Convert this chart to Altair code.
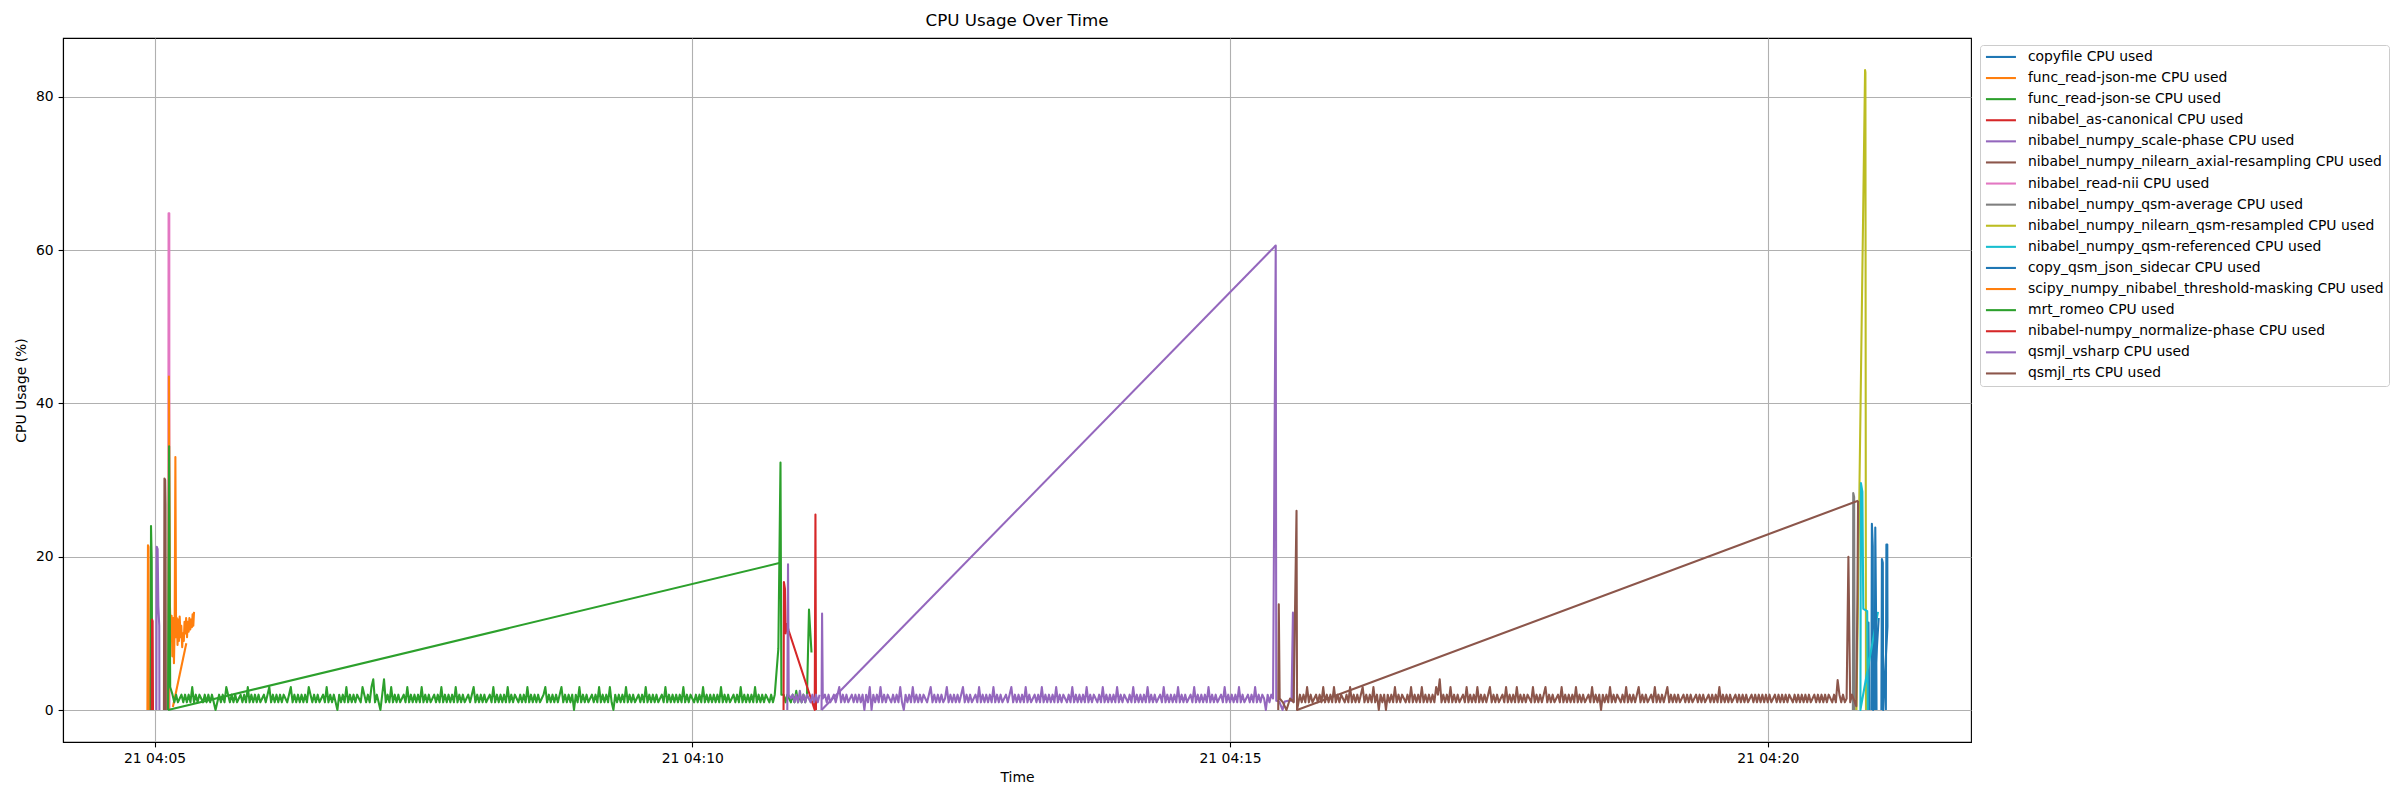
import altair as alt
import pandas as pd

DAY = "2024-03-21"

SERIES = [
    "copyfile CPU used",
    "func_read-json-me CPU used",
    "func_read-json-se CPU used",
    "nibabel_as-canonical CPU used",
    "nibabel_numpy_scale-phase CPU used",
    "nibabel_numpy_nilearn_axial-resampling CPU used",
    "nibabel_read-nii CPU used",
    "nibabel_numpy_qsm-average CPU used",
    "nibabel_numpy_nilearn_qsm-resampled CPU used",
    "nibabel_numpy_qsm-referenced CPU used",
    "copy_qsm_json_sidecar CPU used",
    "scipy_numpy_nibabel_threshold-masking CPU used",
    "mrt_romeo CPU used",
    "nibabel-numpy_normalize-phase CPU used",
    "qsmjl_vsharp CPU used",
    "qsmjl_rts CPU used",
]
COLORS = [
    "#1f77b4", "#ff7f0e", "#2ca02c", "#d62728", "#9467bd", "#8c564b",
    "#e377c2", "#7f7f7f", "#bcbd22", "#17becf", "#1f77b4", "#ff7f0e",
    "#2ca02c", "#d62728", "#9467bd", "#8c564b",
]

# all times: seconds after 04:00:00 on day 21
copyfile_a_t = [1255.9, 1256.2, 1256.6]
copyfile_a_v = [0.0, 11.4, 0.0]
copyfile_b_t = [1257.8, 1258.1, 1258.6, 1258.8, 1261.9]
copyfile_b_v = [0.0, 24.3, 21.4, 0.0, 12.0]

json_me_t = [296.0, 296.3, 296.6, 296.9]
json_me_v = [0.0, 21.5, 21.3, 0.0]

json_se_t = [297.8, 298.0, 298.4, 298.7]
json_se_v = [0.0, 24.0, 19.5, 0.0]

canonical_t = [298.4, 298.6, 298.9, 299.1]
canonical_v = [0.0, 11.8, 11.6, 0.0]

scale_phase_t = [301.0, 301.2, 301.7, 302.1, 302.6, 302.7]
scale_phase_v = [0.0, 21.3, 21.0, 13.6, 11.0, 0.0]

axial_t = [305.2, 305.5, 305.9, 306.1, 306.3]
axial_v = [0.0, 30.2, 30.0, 26.7, 0.0]

read_nii_t = [307.6, 307.8, 308.2, 308.3]
read_nii_v = [0.0, 64.8, 64.8, 0.0]

qsm_average_t = [1247.5, 1247.7, 1248.2, 1248.5]
qsm_average_v = [0.0, 28.3, 27.8, 0.0]

resampled_t = [1249.5, 1254.3, 1254.5, 1254.8]
resampled_v = [0.0, 83.5, 83.2, 0.0]

referenced_t = [1261.5, 1251.7, 1252.0, 1252.8, 1253.3, 1255.5, 1255.8]
referenced_v = [12.8, 0.0, 29.6, 28.5, 13.2, 12.9, 0.0]

sidecar_a_t = [1259.7, 1260.0, 1260.5, 1260.7]
sidecar_a_v = [0.0, 23.8, 10.5, 0.0]
sidecar_b_t = [1263.4, 1263.7, 1264.2, 1264.4, 1266.8, 1266.7, 1266.2, 1265.9]
sidecar_b_v = [0.0, 19.7, 19.2, 0.0, 10.9, 21.6, 21.6, 0.0]

masking_a_t = [307.8, 308.0, 308.5, 309.0, 309.5, 309.9, 310.4, 310.8, 311.2, 311.6,
               312.0, 312.4, 312.8, 313.2, 313.6, 314.0, 314.5, 314.9, 315.4, 315.8,
               316.3, 316.7, 317.2, 317.6, 318.1, 318.5, 319.0, 319.4, 319.9, 320.3,
               320.8, 321.2, 321.6, 322.0]
masking_a_v = [0.0, 43.5, 14.0, 10.5, 12.3, 7.0, 12.0, 6.1, 11.0, 33.0,
               9.5, 12.0, 8.5, 11.8, 9.0, 12.2, 9.5, 11.0, 8.2, 10.0,
               9.0, 11.5, 10.0, 12.0, 9.5, 11.5, 10.2, 12.0, 10.5, 11.8,
               10.8, 12.5, 11.0, 12.8]
masking_b_t = [310.2, 317.7]
masking_b_v = [0.4, 8.7]

romeo_line_t = [307.5, 649.1]
romeo_line_v = [0.0, 19.2]
romeo_head_t = [307.5, 308.1, 308.7]
romeo_head_v = [0.0, 34.4, 3.0]
romeo_noise_start = 310.0
romeo_noise_step = 1.0
romeo_noise = [
    2, 1, 2, 1, 1.5, 2, 1, 2, 1, 2, 1, 3, 1, 2, 1, 2, 1.5, 1, 2, 1,
    2, 1, 2, 1, 0, 1, 2, 1, 2, 1, 3, 2, 1, 2, 1, 2, 1, 1.5, 2, 1,
    2, 1, 3, 1, 2, 1, 2, 1, 2, 1, 1.5, 2, 1, 2, 3, 1, 2, 1, 2, 1,
    2, 1, 2, 1.5, 1, 2, 3, 1, 2, 1, 2, 1, 2, 1, 2, 1, 3, 2, 1, 2,
    1, 2, 1, 1.5, 2, 1, 3, 1, 2, 1, 2, 1, 0, 2, 1, 2, 1, 3, 1, 2,
    1, 2, 1, 2, 1.5, 1, 3, 2, 1, 2, 1, 3, 4, 1, 2, 1, 0, 2, 4, 1,
    2, 1, 3, 1, 2, 1, 2, 1, 1.5, 2, 1, 3, 1, 2, 1, 2, 1, 2, 1, 3,
    1, 2, 1, 2, 1, 1.5, 2, 1, 2, 1, 3, 1, 2, 1, 2, 1, 2, 1, 3, 1,
    2, 1, 2, 1, 1.5, 2, 1, 2, 3, 1, 2, 1, 2, 1, 2, 1, 1.5, 2, 1, 3,
    1, 2, 1, 2, 1, 2, 1, 3, 1, 2, 1, 2, 1.5, 1, 2, 1, 2, 1, 3, 1,
    2, 1, 2, 1, 2, 1, 1.5, 2, 3, 1, 2, 1, 2, 1, 2, 1, 2, 3, 1, 2,
    1, 2, 1, 2, 0, 2, 1, 3, 1, 2, 1, 2, 1, 1.5, 2, 1, 2, 1, 3, 1,
    2, 1, 2, 1, 3, 1, 0, 2, 1, 2, 1, 2, 1, 3, 1, 2, 1, 2, 1, 1.5,
    2, 1, 2, 1, 3, 1, 2, 1, 2, 1, 2, 1, 1.5, 2, 1, 3, 1, 2, 1, 2,
    1, 2, 1, 2, 1, 3, 1, 2, 1, 2, 1.5, 1, 2, 1, 2, 1, 3, 1, 2, 1,
    2, 1, 2, 1, 2, 1, 3, 1, 2, 1, 2, 1, 1.5, 2, 1, 2, 1, 3, 1, 2,
    1, 2, 1, 2, 1, 3, 1, 2, 1, 2, 1, 2, 1.5, 1, 2, 1, 2,
]
romeo_tail_t = [648.0, 649.2, 649.7, 651.0, 652.0, 653.0, 654.0, 655.0, 656.0, 657.0,
                658.0, 659.0, 660.0, 661.0, 662.0, 663.0, 664.0, 665.1, 666.5]
romeo_tail_v = [8.0, 32.3, 2.0, 2.0, 1.0, 2.0, 1.5, 1.0, 2.0, 1.0,
                2.5, 1.0, 2.0, 1.0, 2.0, 1.0, 2.0, 13.1, 7.5]

normalize_t = [650.9, 651.1, 651.7, 652.1, 652.8, 653.7, 668.3, 668.7, 669.0]
normalize_v = [0.0, 16.7, 15.8, 10.0, 11.2, 10.4, 0.0, 25.5, 0.0]

vsharp_a_t = [653.0, 653.4, 653.8, 655.0, 656.0, 657.0, 658.0, 659.0, 660.0, 661.0,
              662.0, 663.0, 664.0, 665.0, 666.0, 667.0, 668.0, 669.0, 670.0, 671.0]
vsharp_a_v = [0.0, 19.0, 2.0, 1.5, 2.0, 1.0, 2.0, 1.0, 2.5, 1.0,
              2.0, 1.0, 2.0, 1.5, 1.0, 2.0, 1.0, 2.0, 1.0, 2.0]
vsharp_line_t = [672.1, 925.5]
vsharp_line_v = [0.0, 60.6]
vsharp_head_t = [672.1, 672.4, 672.8]
vsharp_head_v = [0.0, 12.6, 1.5]
vsharp_noise_start = 674.0
vsharp_noise_step = 1.0
vsharp_noise = [
    2, 1, 2, 1, 1.5, 2, 1, 2, 3, 1, 2, 1, 2, 1, 1.5, 2, 1, 2, 1, 2,
    1, 2, 0, 2, 1, 3, 0, 2, 1, 2, 1, 3, 1, 2, 1, 2, 1.5, 1, 2, 1,
    2, 1, 3, 1, 0, 2, 1, 2, 1, 3, 1, 2, 1, 2, 1, 2, 1.5, 1, 2, 3,
    1, 2, 1, 2, 1, 2, 1, 1.5, 3, 1, 2, 1, 2, 1, 2, 1, 2, 3, 1, 2,
    1, 2, 1, 1.5, 2, 1, 3, 1, 2, 1, 2, 1, 2, 1, 3, 1, 2, 1, 2, 1,
    1.5, 2, 1, 2, 3, 1, 2, 1, 2, 1, 2, 1, 3, 1, 2, 1, 1.5, 2, 1, 2,
    1, 3, 1, 2, 1, 2, 1, 2, 1, 3, 1, 2, 1, 2, 1.5, 1, 2, 1, 3, 1,
    2, 1, 2, 1, 2, 1, 3, 1, 2, 1, 2, 1.5, 1, 2, 1, 3, 1, 2, 1, 2,
    1, 2, 1, 3, 1, 2, 1, 2, 1.5, 1, 2, 1, 3, 1, 2, 1, 2, 1, 2, 1,
    3, 1, 2, 1, 2, 1, 1.5, 2, 1, 3, 1, 2, 1, 2, 1, 2, 1, 3, 1, 2,
    1, 2, 1, 1.5, 2, 1, 3, 1, 2, 1, 2, 1, 2, 1, 3, 1, 2, 1, 2, 1,
    1.5, 2, 1, 3, 1, 2, 1, 2, 1, 2, 1, 3, 1, 2, 1, 1.5, 2, 1, 2, 1,
    3, 1, 2, 1, 2, 1.5, 0, 2, 1, 2, 1.5,
]
vsharp_tail_t = [925.5, 925.8, 927.5, 929.3, 930.5, 932.5, 934.3, 935.1, 935.5]
vsharp_tail_v = [60.6, 1.2, 1.1, 0.0, 1.1, 1.2, 1.2, 12.7, 1.0]

rts_head_t = [926.9, 927.2, 927.7, 929.5, 931.5, 933.5, 935.5, 937.1, 937.4]
rts_head_v = [0.0, 13.8, 1.5, 1.0, 0.0, 1.5, 1.0, 26.0, 0.0]
rts_line_t = [937.4, 1250.4]
rts_line_v = [0.0, 27.3]
rts_noise_start = 939.0
rts_noise_step = 1.0
rts_noise = [
    2, 1, 2, 1, 3, 1, 2, 1, 1.5, 2, 1, 2, 1, 3, 1, 2, 1, 2, 1, 3,
    1, 2, 1, 2, 1.5, 1, 2, 1, 3, 1, 2, 1, 2, 1, 2, 3, 1, 2, 1, 2,
    1, 3, 1, 2, 0, 2, 1, 2, 0, 2, 1, 2, 1, 3, 1, 2, 1, 2, 1.5, 1,
    2, 1, 3, 1, 2, 1, 2, 1, 3, 1, 2, 1, 2, 1, 2, 1, 3, 2, 4, 1,
    2, 1, 2, 1, 3, 1, 2, 1, 2, 1, 1.5, 2, 1, 3, 1, 2, 1, 2, 1, 3,
    1, 2, 1, 2, 1, 2, 3, 1, 2, 1, 2, 1, 1.5, 2, 1, 3, 1, 2, 1, 2,
    1, 3, 1, 2, 1, 2, 1, 2, 1.5, 1, 3, 1, 2, 1, 2, 1, 2, 3, 1, 2,
    1, 2, 1, 1.5, 2, 1, 3, 1, 2, 1, 2, 1, 2, 1, 3, 1, 2, 1, 2, 1,
    1.5, 2, 1, 3, 1, 2, 1, 2, 0, 2, 1, 2, 1, 3, 1, 2, 1, 2, 1.5, 1,
    2, 1, 3, 1, 2, 1, 2, 1, 2, 3, 1, 2, 1, 2, 1, 1.5, 2, 1, 3, 1,
    2, 1, 2, 1, 2, 3, 1, 2, 1, 2, 1, 2, 1, 1.5, 2, 1, 2, 1, 2, 1,
    1.5, 2, 1, 2, 1, 2, 1, 1.5, 2, 1, 2, 1, 2, 1, 3, 1, 2, 1, 2, 1,
    2, 1, 1.5, 2, 1, 2, 1, 2, 1, 2, 1, 1.5, 2, 1, 2, 1, 2, 1, 2, 1,
    2, 1, 2, 1, 1.5, 2, 1, 2, 1, 2, 1, 2, 1, 2, 1.5, 1, 2, 1, 2, 1,
    2, 1, 2, 1, 2, 1, 1.5, 2, 1, 2, 1, 2, 1, 2, 1, 2, 1.5, 1, 2, 1,
    3.9, 2, 1, 2, 1, 1.5, 20, 1, 2,
]
rts_tail_t = [1249.4, 1250.0, 1250.4]
rts_tail_v = [0.5, 13.9, 27.3]


def sampled(start, step, values):
    return [round(start + i * step, 3) for i in range(len(values))]


def stamp(sec):
    ms_total = int(round(sec * 1000))
    m, rem = divmod(ms_total, 60000)
    s, ms = divmod(rem, 1000)
    return f"{DAY}T04:{m:02d}:{s:02d}.{ms:03d}"


segments = {
    SERIES[0]: [(copyfile_a_t, copyfile_a_v), (copyfile_b_t, copyfile_b_v)],
    SERIES[1]: [(json_me_t, json_me_v)],
    SERIES[2]: [(json_se_t, json_se_v)],
    SERIES[3]: [(canonical_t, canonical_v)],
    SERIES[4]: [(scale_phase_t, scale_phase_v)],
    SERIES[5]: [(axial_t, axial_v)],
    SERIES[6]: [(read_nii_t, read_nii_v)],
    SERIES[7]: [(qsm_average_t, qsm_average_v)],
    SERIES[8]: [(resampled_t, resampled_v)],
    SERIES[9]: [(referenced_t, referenced_v)],
    SERIES[10]: [(sidecar_a_t, sidecar_a_v), (sidecar_b_t, sidecar_b_v)],
    SERIES[11]: [(masking_a_t, masking_a_v), (masking_b_t, masking_b_v)],
    SERIES[12]: [
        (romeo_line_t, romeo_line_v),
        (romeo_head_t + sampled(romeo_noise_start, romeo_noise_step, romeo_noise) + romeo_tail_t,
         romeo_head_v + romeo_noise + romeo_tail_v),
    ],
    SERIES[13]: [(normalize_t, normalize_v)],
    SERIES[14]: [
        (vsharp_a_t, vsharp_a_v),
        (vsharp_line_t, vsharp_line_v),
        (vsharp_head_t + sampled(vsharp_noise_start, vsharp_noise_step, vsharp_noise) + vsharp_tail_t,
         vsharp_head_v + vsharp_noise + vsharp_tail_v),
    ],
    SERIES[15]: [
        (rts_line_t, rts_line_v),
        (rts_head_t + sampled(rts_noise_start, rts_noise_step, rts_noise) + rts_tail_t,
         rts_head_v + rts_noise + rts_tail_v),
    ],
}

rows = []
for name, segs in segments.items():
    for k, (ts, vs) in enumerate(segs):
        for i, (t, v) in enumerate(zip(ts, vs)):
            rows.append({"series": name, "seg": f"{name}|{k}", "idx": i,
                         "time": stamp(t), "value": float(v)})
df = pd.DataFrame(rows)

FONT = "DejaVu Sans"
color_scale = alt.Scale(domain=SERIES, range=COLORS)
x_domain = [alt.DateTime(year=2024, month=3, date=21, hours=4, minutes=4, seconds=8, milliseconds=900),
            alt.DateTime(year=2024, month=3, date=21, hours=4, minutes=21, seconds=53, milliseconds=400)]
x_ticks = [alt.DateTime(year=2024, month=3, date=21, hours=4, minutes=mm) for mm in (5, 10, 15, 20)]

legend = alt.Legend(
    title=None, orient="none", legendX=1917, legendY=7,
    symbolType="M-3,0L3,0", symbolSize=100, symbolStrokeWidth=2.08,
    symbolOffset=9, labelOffset=20,
    labelFont=FONT, labelFontSize=13.9, labelColor="black", labelLimit=800,
    rowPadding=6.1, padding=5, strokeColor="#cccccc", fillColor="white",
    cornerRadius=3,
)

layers = []
for name in SERIES:
    layers.append(
        alt.Chart(df)
        .transform_filter(alt.datum.series == name)
        .mark_line(strokeWidth=2.08, strokeJoin="round", clip=True)
        .encode(
            x=alt.X("time:T", title="Time",
                    scale=alt.Scale(domain=x_domain),
                    axis=alt.Axis(values=x_ticks, format="%d %H:%M", grid=True,
                                  titlePadding=5)),
            y=alt.Y("value:Q", title="CPU Usage (%)",
                    scale=alt.Scale(domain=[-4.175, 87.675], nice=False, zero=False),
                    axis=alt.Axis(values=[0, 20, 40, 60, 80], grid=True, titlePadding=7)),
            color=alt.Color("series:N", scale=color_scale, legend=legend),
            detail="seg:N",
            order="idx:Q",
        )
    )

chart = (
    alt.layer(*layers)
    .properties(
        width=1908, height=704,
        title=alt.TitleParams("CPU Usage Over Time", font=FONT, fontSize=16.7,
                              fontWeight="normal", color="black", anchor="middle", offset=8),
        autosize=alt.AutoSizeParams(type="none"),
        padding={"left": 55, "top": 30, "right": 421, "bottom": 48},
    )
    .configure_view(stroke="black", strokeWidth=1.1)
    .configure_axis(
        domainColor="black", domainWidth=1.1, tickColor="black", tickWidth=1.1, tickSize=4.9,
        labelFont=FONT, labelFontSize=13.9, labelColor="black", labelPadding=4.9,
        titleFont=FONT, titleFontSize=13.9, titleFontWeight="normal", titleColor="black",
        gridColor="#b0b0b0", gridWidth=1.1,
    )
)

chart.save("out.html", embed_options={"renderer": "svg", "actions": False})
